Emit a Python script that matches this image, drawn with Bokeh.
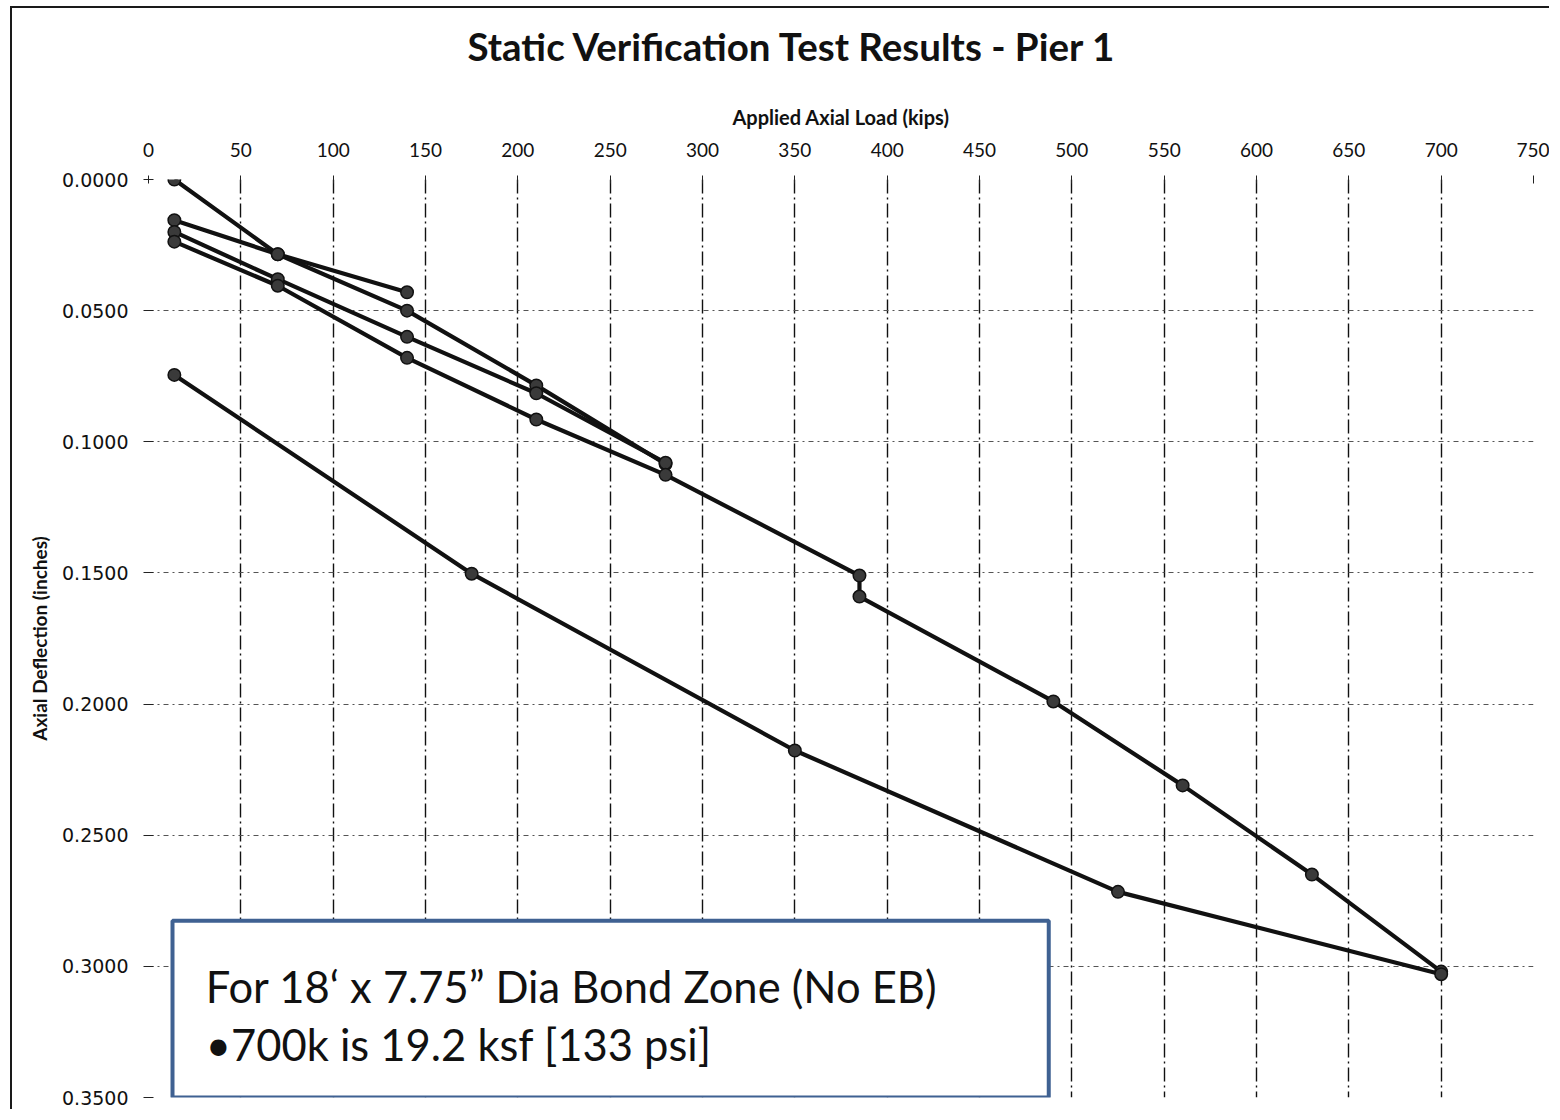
from bokeh.plotting import figure
from bokeh.layouts import column
from bokeh.models import BoxAnnotation, Label, FixedTicker, PrintfTickFormatter, Title
from bokeh.embed import file_html
from bokeh.resources import INLINE

# ---- data ----
x_ticks = [0, 50, 100, 150, 200, 250, 300, 350, 400, 450, 500, 550, 600, 650, 700, 750]
y_ticks = [0.0, 0.05, 0.10, 0.15, 0.20, 0.25, 0.30, 0.35]

load_s1 = [14, 70, 140]
defl_s1 = [0.0000, 0.0285, 0.0430]

load_s2 = [14, 70, 140, 210, 280]
defl_s2 = [0.0155, 0.0285, 0.0500, 0.0785, 0.1085]

load_s3 = [14, 70, 140, 210, 280]
defl_s3 = [0.0200, 0.0380, 0.0600, 0.0815, 0.1080]

load_s4 = [14, 70, 140, 210, 280, 385, 385, 490, 560, 630, 700]
defl_s4 = [0.0237, 0.0405, 0.0680, 0.0915, 0.1126, 0.1510, 0.1590, 0.1990, 0.2310, 0.2650, 0.3020]

load_s5 = [14, 175, 350, 525, 700]
defl_s5 = [0.0745, 0.1503, 0.2177, 0.2716, 0.3030]

series = [(load_s1, defl_s1), (load_s2, defl_s2), (load_s3, defl_s3),
          (load_s4, defl_s4), (load_s5, defl_s5)]

title_text = "Static Verification Test Results - Pier 1"
x_title = "Applied Axial Load (kips)"
y_title = "Axial Deflection (inches)"
note_line1 = "For 18\u2018 x 7.75\u201d Dia Bond Zone (No EB)"
note_line2 = "\u2022700k is 19.2 ksf [133 psi]"

# ---- figure ----
p = figure(width=1539, height=1103, x_range=(0, 750), y_range=(0.35, 0.0),
           x_axis_location="above", output_backend="svg", toolbar_location=None,
           min_border_left=136, min_border_right=18, min_border_top=171,
           min_border_bottom=14, title=title_text)
p.outline_line_color = None
p.background_fill_color = "white"
p.border_fill_color = "white"
p.margin = (6, 0, 0, 10)
p.styles = {"border-top": "2.5px solid #1a1a1a", "border-left": "2.5px solid #1a1a1a"}

p.title.align = "left"
p.title.offset = 319
p.title.text_font = "Lato"
p.title.text_font_style = "bold"
p.title.text_font_size = "38.5px"
p.title.text_color = "#111111"
p.title.standoff = 0

# empty spacer between the chart title and the top axis title
p.add_layout(Title(text=" ", text_font_size="10px", standoff=20), "above")

xa = p.xaxis[0]
xa.ticker = FixedTicker(ticks=x_ticks)
xa.axis_label = x_title
xa.axis_label_text_font = "Lato"
xa.axis_label_text_font_style = "bold"
xa.axis_label_text_font_size = "20px"
xa.axis_label_text_color = "#111111"
xa.axis_label_standoff = 11
xa.major_label_text_font = "Lato"
xa.major_label_text_font_size = "19px"
xa.major_label_text_color = "#111111"
xa.major_label_standoff = 19
xa.axis_line_color = None
xa.major_tick_line_color = "#222222"
xa.major_tick_in = 4
xa.major_tick_out = 4
xa.minor_tick_line_color = None

ya = p.yaxis[0]
ya.ticker = FixedTicker(ticks=y_ticks)
ya.formatter = PrintfTickFormatter(format="%.4f")
ya.axis_label = y_title
ya.axis_label_text_font = "Lato"
ya.axis_label_text_font_style = "bold"
ya.axis_label_text_font_size = "19px"
ya.axis_label_text_color = "#111111"
ya.axis_label_standoff = 8
ya.major_label_text_font = "DejaVu Sans"
ya.major_label_text_font_size = "19px"
ya.major_label_text_color = "#111111"
ya.major_label_standoff = 15
ya.axis_line_color = None
ya.major_tick_line_color = "#222222"
ya.major_tick_in = 5
ya.major_tick_out = 5
ya.minor_tick_line_color = None

p.xgrid.grid_line_color = "#111111"
p.xgrid.grid_line_width = 1.4
p.xgrid.grid_line_dash = "14 4 2 4"
p.ygrid.grid_line_color = "#555555"
p.ygrid.grid_line_width = 1.0
p.ygrid.grid_line_dash = "5 4 2 4"

for lx, ly in series:
    p.line(lx, ly, line_color="#111111", line_width=4.2)
    p.scatter(lx, ly, size=12.5, marker="circle", fill_color="#3a3a3a",
              line_color="#111111", line_width=1.5)

# ---- note box ----
box = BoxAnnotation(left=13, right=487.5, top=0.2826, bottom=0.35,
                    fill_color="white", fill_alpha=1.0,
                    line_color="#3f6192", line_alpha=1.0, line_width=4)
p.add_layout(box)
p.add_layout(Label(x=31, y=0.3075, text=note_line1, text_font="Lato",
                   text_font_size="43.5px", text_color="#111111",
                   text_baseline="middle"))
p.add_layout(Label(x=31, y=0.3297, text=note_line2, text_font="Lato",
                   text_font_size="43.5px", text_color="#111111",
                   text_baseline="middle"))

layout = column(p)

open("out.html", "w").write(file_html(layout, INLINE))
